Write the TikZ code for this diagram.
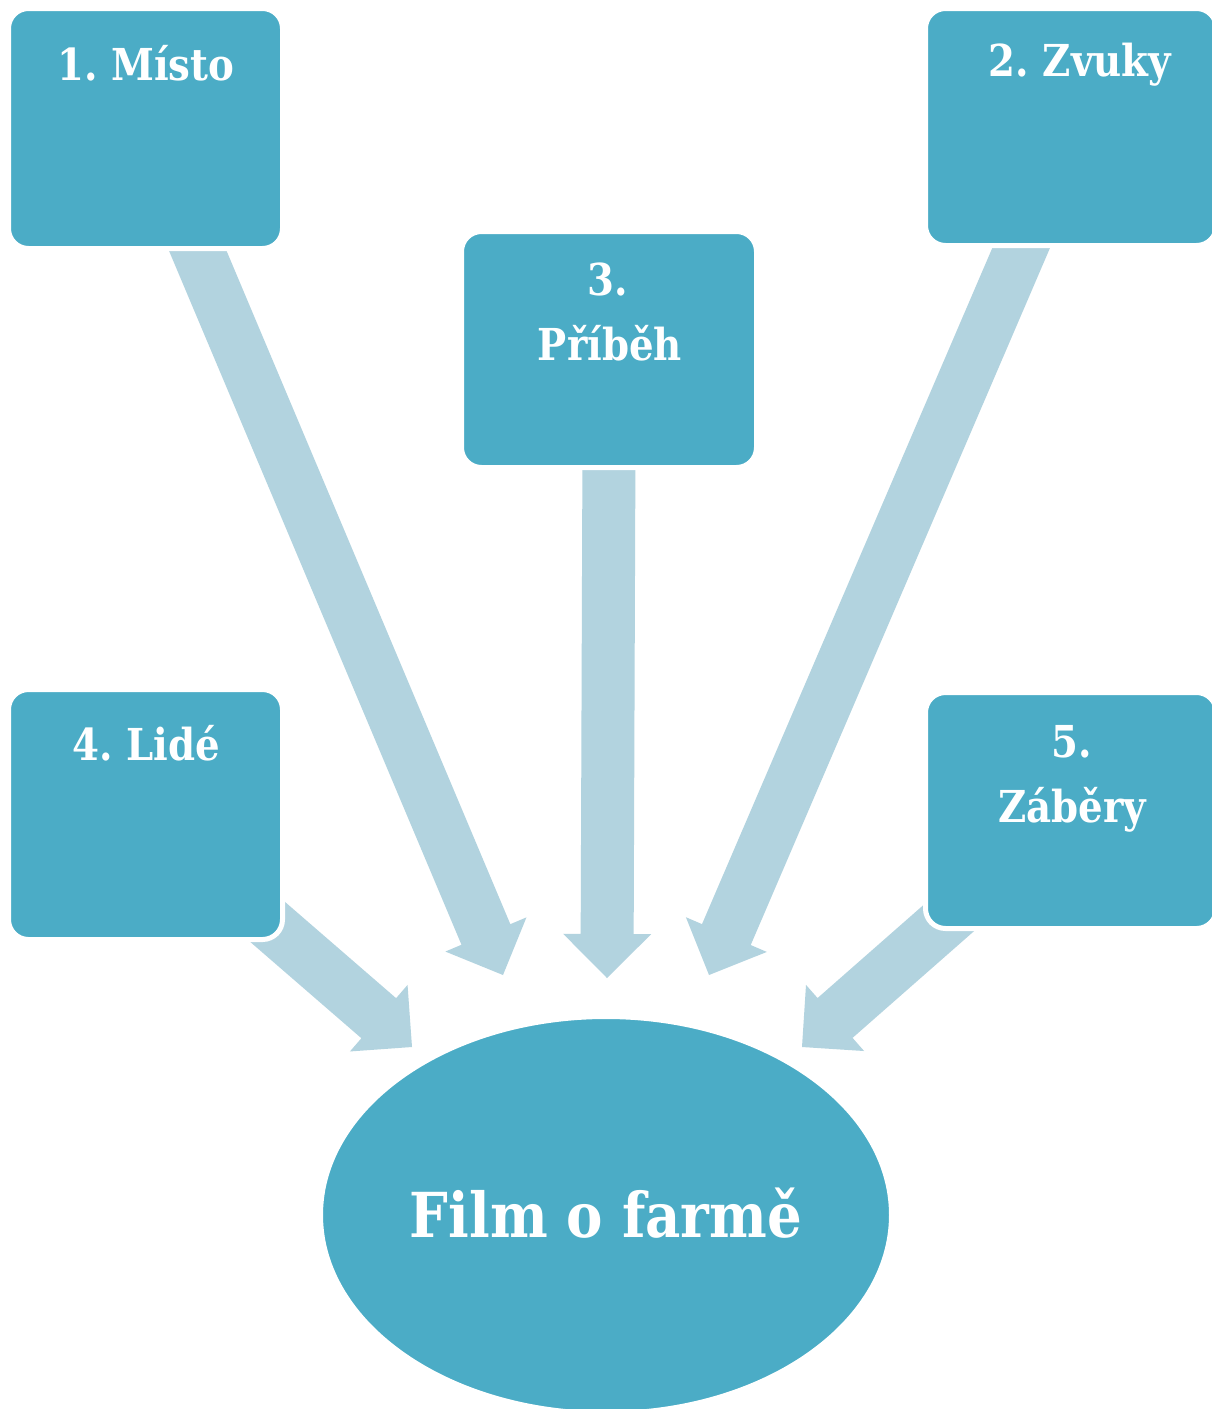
\documentclass[tikz,border=0pt]{standalone}
\usepackage{fontspec}
\setmainfont[FakeStretch=0.88]{DejaVu Serif}
\usetikzlibrary{calc,shapes.geometric}
\definecolor{boxblue}{HTML}{4BACC6}
\definecolor{arrowblue}{HTML}{B2D3DF}
\pgfdeclarelayer{background}
\pgfsetlayers{background,main}
\newcommand\myfatarrow[2]{%
  \coordinate (hb) at ($(#2)!22pt!(#1)$);
  \fill[arrowblue] ($(#1)!13.25pt!90:(#2)$) -- ($(hb)!13.25pt!90:(#2)$)
    -- ($(hb)!22pt!90:(#2)$) -- (#2) -- ($(hb)!22pt!-90:(#2)$)
    -- ($(hb)!13.25pt!-90:(#2)$) -- ($(#1)!13.25pt!-90:(#2)$) -- cycle;
}
\frenchspacing
\begin{document}
\begin{tikzpicture}[x=0.5pt,y=-0.5pt,
  box/.style={draw=white, line width=2.5pt, fill=boxblue, rounded corners=10pt, inner sep=0pt},
  lbl/.style={text=white, inner sep=0pt, anchor=base, font=\bfseries\fontsize{22}{26}\selectfont},
  biglbl/.style={text=white, inner sep=0pt, anchor=base, font=\bfseries\fontsize{31}{36}\selectfont}]
\useasboundingbox (0,0) rectangle (1211,1409);
% boxes
\node[box, minimum width=137pt, minimum height=120pt] (b1) at (145.5,128.5) {};
\node[box, minimum width=145.5pt, minimum height=118.5pt] (b2) at (1071,127) {};
\node[box, minimum width=147.5pt, minimum height=118pt] (b3) at (609,349.5) {};
\node[box, minimum width=137pt, minimum height=125pt] (b4) at (145.5,814.5) {};
\node[box, minimum width=145.5pt, minimum height=118pt] (b5) at (1071,810.5) {};
\node[draw=white, line width=2.5pt, fill=boxblue, ellipse, inner sep=0pt, minimum width=285.5pt, minimum height=198.5pt] (film) at (606,1215) {};
% labels
\node[lbl] (t1) at (146,80) {1. Místo};
\node[lbl] (t2) at (1080,76) {2. Zvuky};
\node[lbl] (t3a) at (608,295) {3.};
\node[lbl] (t3b) at (610,360) {Příběh};
\node[lbl] (t4) at (146,760) {4. Lidé};
\node[lbl] (t5a) at (1072,757) {5.};
\node[lbl] (t5b) at (1072,822) {Záběry};
\node[biglbl] (tf) at (606,1237) {Film o farmě};
% arrow end points
\coordinate (s1) at (189,230);
\coordinate (e1) at (503,975);
\coordinate (s2) at (1031,225);
\coordinate (e2) at (709,975);
\coordinate (s3) at (609,440);
\coordinate (e3) at (607,978);
\coordinate (s4) at (240,898);
\coordinate (e4) at (412,1047);
\coordinate (s5) at (975,895);
\coordinate (e5) at (802,1047);
\begin{pgfonlayer}{background}
\fill[white] (0,0) rectangle (1211,1409);
\myfatarrow{s1}{e1}
\myfatarrow{s2}{e2}
\myfatarrow{s3}{e3}
\myfatarrow{s4}{e4}
\myfatarrow{s5}{e5}
\end{pgfonlayer}
\end{tikzpicture}
\end{document}
